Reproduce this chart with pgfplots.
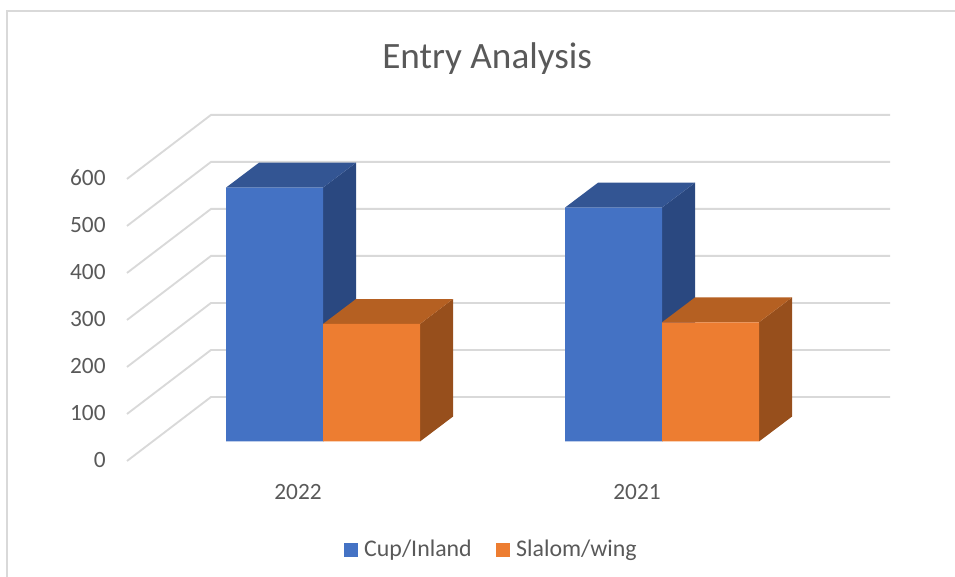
\documentclass[border=0pt]{standalone}
\usepackage{pgfplots}
\usepackage{fontspec}
\setmainfont{Carlito}
\pgfplotsset{compat=1.18,
  sq legend/.style={legend image code/.code={\fill[##1] (0pt,-5.2pt) rectangle (10.5pt,5.3pt);}}}
\definecolor{cupF}{HTML}{4472C4}\definecolor{cupT}{HTML}{335593}\definecolor{cupS}{HTML}{2A4880}
\definecolor{slaF}{HTML}{ED7D31}\definecolor{slaT}{HTML}{B56022}\definecolor{slaS}{HTML}{974F1C}
\definecolor{gridc}{HTML}{D9D9D9}\definecolor{txt}{HTML}{595959}
\begin{document}
\begin{tikzpicture}[x=0.75pt,y=0.75pt]
\useasboundingbox (0,0) rectangle (955,577);
\draw[gridc,line width=1.5pt] (6.5,0) -- (6.5,566) -- (955,566);
\begin{axis}[
  at={(95.25pt,87pt)},anchor=south west,scale only axis,
  width=572.25pt,height=259.5pt,
  xmin=127,xmax=890,ymin=-41.5,ymax=694.5,
  axis line style={draw=none},major tick length=0pt,
  clip=false,
  xtick={323,662},xticklabels={2022,2021},
  ytick={-41.5,58.5,158.5,258.5,358.5,458.5,558.5},
  yticklabels={0,100,200,300,400,500,600},
  tick label style={font=\fontsize{17.5}{19}\selectfont,text=txt},
  /pgf/number format/assume math mode=true,
  yticklabel style={xshift=-12.5pt,yshift=1pt},
  xticklabel style={xshift=-18.75pt,yshift=-14pt},
  title={Entry Analysis},
  title style={font=\fontsize{27.9}{30}\selectfont,text=txt,at={(0.472,1.0)},anchor=center,yshift=36.5pt},
  legend columns=2,
  legend style={draw=none,fill=none,at={(0.4777,-0.256)},anchor=center,font=\fontsize{17.9}{19}\selectfont,text=txt,
    /tikz/every even column/.append style={column sep=15.8pt},
    /tikz/every odd column/.append style={column sep=3pt}},
]
\addplot[gridc,line width=1.4pt,forget plot] coordinates {(127,-41.5)(211,94.7)(890,94.7)};
\addplot[gridc,line width=1.4pt,forget plot] coordinates {(127,58.5)(211,194.7)(890,194.7)};
\addplot[gridc,line width=1.4pt,forget plot] coordinates {(127,158.5)(211,294.7)(890,294.7)};
\addplot[gridc,line width=1.4pt,forget plot] coordinates {(127,258.5)(211,394.7)(890,394.7)};
\addplot[gridc,line width=1.4pt,forget plot] coordinates {(127,358.5)(211,494.7)(890,494.7)};
\addplot[gridc,line width=1.4pt,forget plot] coordinates {(127,458.5)(211,594.7)(890,594.7)};
\addplot[gridc,line width=1.4pt,forget plot] coordinates {(127,558.5)(211,694.7)(890,694.7)};
% Cup/Inland: depth faces, 2022 then 2021
\addplot[fill=cupS,draw=none,forget plot] coordinates {(323,540)(356,593)(356,53)(323,0)} -- cycle;
\addplot[fill=cupT,draw=none,forget plot] coordinates {(226,540)(259,593)(356,593)(323,540)} -- cycle;
\addplot[fill=cupS,draw=none,forget plot] coordinates {(662,497.5)(695,550.5)(695,53)(662,0)} -- cycle;
\addplot[fill=cupT,draw=none,forget plot] coordinates {(565,497.5)(598,550.5)(695,550.5)(662,497.5)} -- cycle;
\addplot[ybar,bar width=72.75pt,bar shift=-36.375pt,fill=cupF,draw=none,sq legend] coordinates {(323,540)(662,497.5)};
\addlegendentry{Cup/Inland}
% Slalom/wing: depth faces
\addplot[fill=slaS,draw=none,forget plot] coordinates {(420,250)(453,303)(453,53)(420,0)} -- cycle;
\addplot[fill=slaT,draw=none,forget plot] coordinates {(323,250)(356,303)(453,303)(420,250)} -- cycle;
\addplot[fill=slaS,draw=none,forget plot] coordinates {(759,253.5)(792,306.5)(792,53)(759,0)} -- cycle;
\addplot[fill=slaT,draw=none,forget plot] coordinates {(662,253.5)(695,306.5)(792,306.5)(759,253.5)} -- cycle;
\addplot[ybar,bar width=72.75pt,bar shift=36.375pt,fill=slaF,draw=none,sq legend] coordinates {(323,250)(662,253.5)};
\addlegendentry{Slalom/wing}
\end{axis}
\end{tikzpicture}
\end{document}
